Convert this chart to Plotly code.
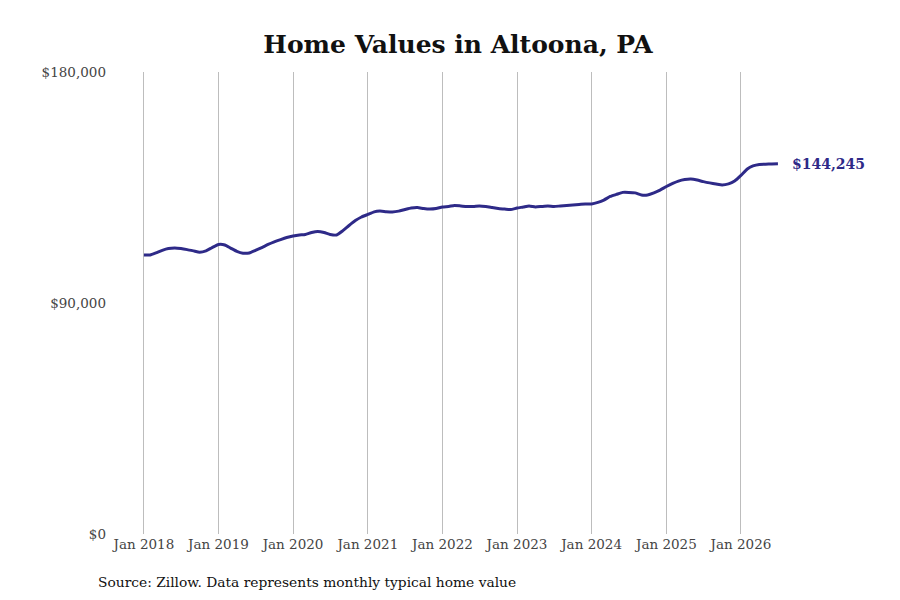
import plotly.graph_objects as go
import pandas as pd

dates = pd.date_range("2018-01-01", "2026-07-01", freq="MS").strftime("%Y-%m-%d").tolist()

values = [
    108700, 108700, 109500, 110500, 111200, 111400, 111200, 110800, 110300, 109800, 110300, 111600,
    112800, 112600, 111400, 110100, 109400, 109500, 110500, 111600, 112800, 113800, 114700, 115500,
    116100, 116500, 116700, 117500, 117900, 117500, 116700, 116500, 118200, 120200, 122100, 123500,
    124500, 125500, 125800, 125600, 125500, 125800, 126400, 127000, 127200, 126800, 126600, 126800,
    127400, 127600, 128000, 127800, 127600, 127600, 127800, 127600, 127200, 126800, 126600, 126400,
    127000, 127400, 127800, 127400, 127600, 127800, 127600, 127800, 128000, 128200, 128400, 128600,
    128600, 129200, 130100, 131500, 132300, 133100, 133100, 132900, 132100, 132100, 132900, 134000,
    135400, 136600, 137500, 138100, 138300, 137900, 137300, 136800, 136400, 136000, 136400, 137500,
    139700, 142200, 143400, 144000, 144100, 144200, 144245,
]

tick_vals = ["2018-01-01", "2019-01-01", "2020-01-01", "2021-01-01", "2022-01-01",
             "2023-01-01", "2024-01-01", "2025-01-01", "2026-01-01"]
tick_text = ["Jan 2018", "Jan 2019", "Jan 2020", "Jan 2021", "Jan 2022",
             "Jan 2023", "Jan 2024", "Jan 2025", "Jan 2026"]
y_ticks = [0, 90000, 180000]
y_tick_text = ["$0", "$90,000", "$180,000"]

title_text = "Home Values in Altoona, PA"
source_text = "Source: Zillow. Data represents monthly typical home value"
end_label = "$144,245"

line_color = "#2e2a88"
font_family = "DejaVu Serif"

fig = go.Figure()
fig.add_trace(go.Scatter(
    x=dates, y=values, mode="lines",
    line=dict(color=line_color, width=3, shape="spline", smoothing=0.5),
    hoverinfo="skip", showlegend=False,
))

fig.add_annotation(
    x=dates[-1], y=values[-1], xref="x", yref="y",
    text="<b>" + end_label + "</b>", showarrow=False,
    xanchor="left", yanchor="middle", xshift=12,
    font=dict(family=font_family, size=14, color=line_color),
)

fig.add_annotation(
    x=-0.023, y=-0.104, xref="paper", yref="paper",
    text=source_text, showarrow=False,
    xanchor="left", yanchor="middle",
    font=dict(family=font_family, size=13.8, color="#111111"),
)

fig.update_layout(
    width=900, height=600,
    paper_bgcolor="white", plot_bgcolor="white",
    margin=dict(l=104, r=118, t=64, b=74),
    title=dict(
        text="<b>" + title_text + "</b>",
        x=0.5, xanchor="center", y=0.94, yanchor="middle",
        font=dict(family=font_family, size=25, color="#111111"),
    ),
    xaxis=dict(
        type="date",
        range=["2017-07-29", "2026-08-29"],
        tickvals=tick_vals, ticktext=tick_text,
        showgrid=True, gridcolor="#bdbdbd", gridwidth=1,
        zeroline=False, showline=False, ticks="",
        tickfont=dict(family=font_family, size=13.5, color="#444444"),
    ),
    yaxis=dict(
        range=[0, 180000],
        tickvals=y_ticks, ticktext=y_tick_text,
        showgrid=False, zeroline=False, showline=False, ticks="",
        tickfont=dict(family=font_family, size=13.5, color="#444444"),
        ticklabelstandoff=5,
    ),
)

fig.write_html("out.html")
